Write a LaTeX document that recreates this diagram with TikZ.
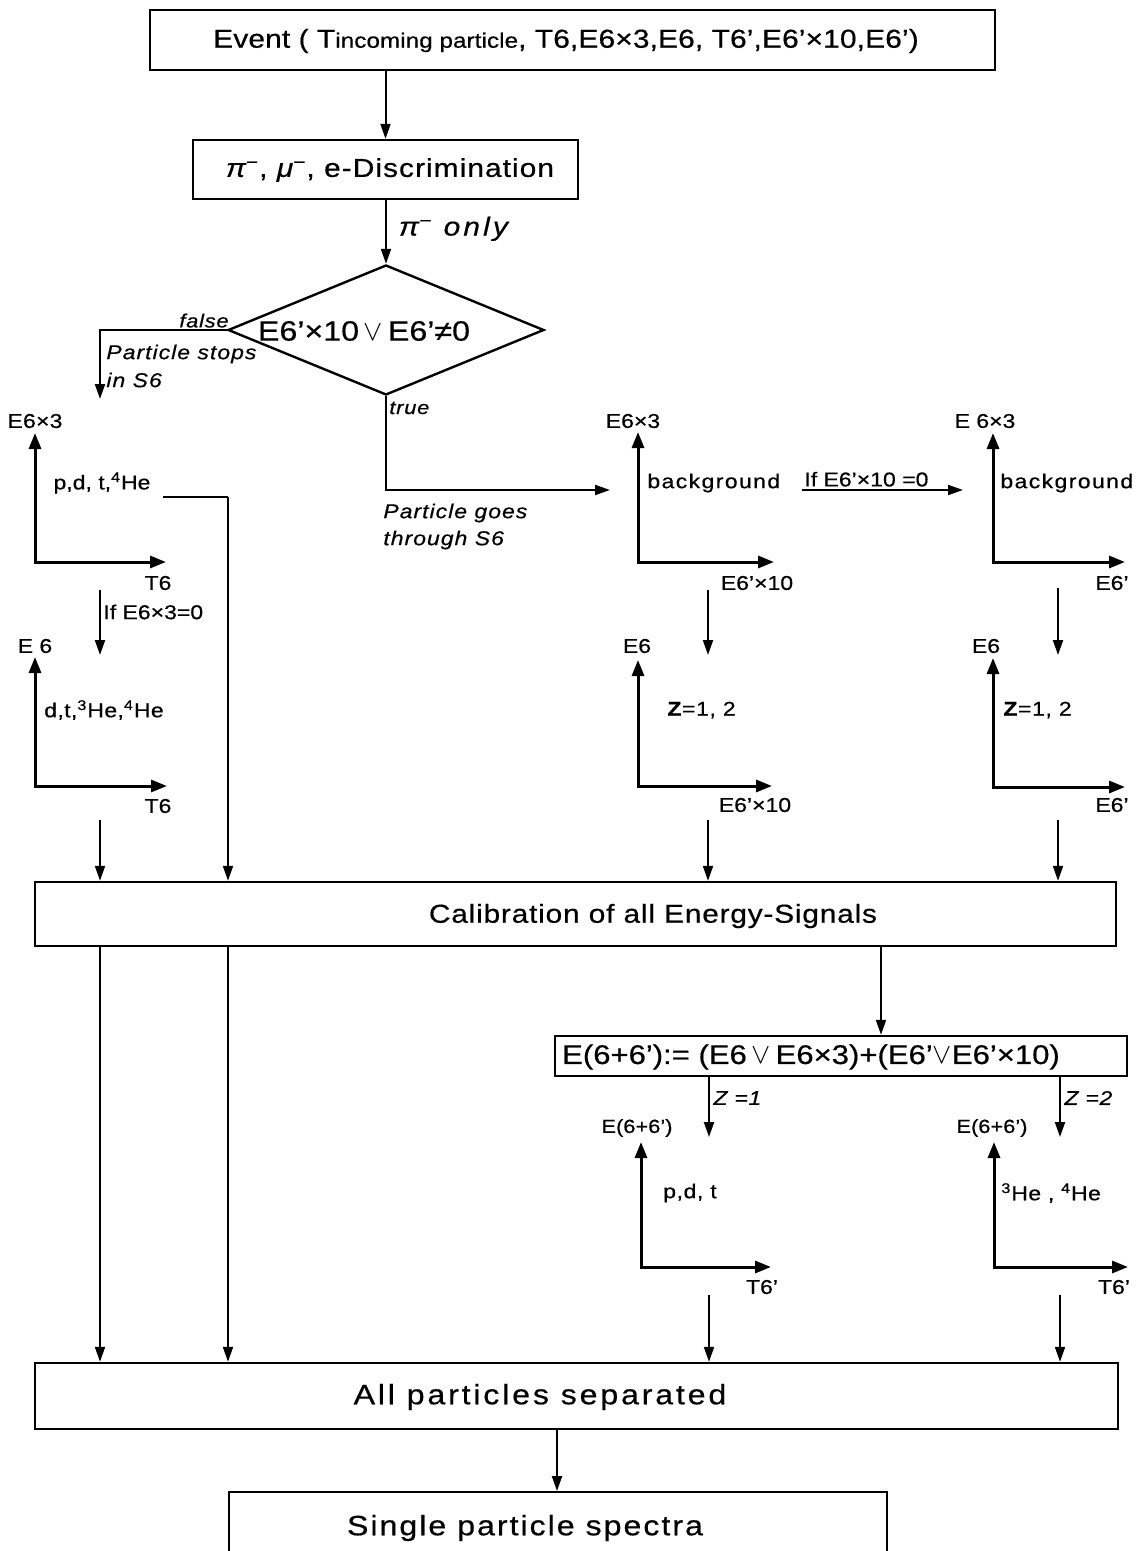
\documentclass[tikz,border=0pt]{standalone}
\usepackage{fontspec}
\setmainfont{Liberation Sans}[FakeStretch=1.15,FakeBold=0.5]
\usetikzlibrary{arrows.meta,shapes.geometric}
\newcommand{\lsp}[2]{{\addfontfeature{LetterSpace=#1}#2}}
\tikzset{
  box/.style={draw, line width=1.2pt, inner sep=0pt},
  flow/.style={line width=1pt, -{Triangle[length=7.5pt,width=5pt]}},
  plain/.style={line width=1pt},
  axis/.style={line width=1.5pt, {Triangle[length=8pt,width=6pt]}-{Triangle[length=8pt,width=6pt]}},
  lab/.style={inner sep=0pt, font=\fontsize{10}{12}\selectfont},
  itl/.style={inner sep=0pt, font=\fontsize{10}{12}\selectfont\itshape},
  big/.style={inner sep=0pt}
}
\begin{document}
\begin{tikzpicture}[x=0.5pt,y=-0.5pt]
\useasboundingbox (0,0) rectangle (1142,1551);
\clip (0,0) rectangle (1142,1551);
\fill[white] (0,0) rectangle (1142,1551);

% ---------- top box
\node[box, minimum width=422.5pt, minimum height=30pt] (ev) at (572.5,40) {};
\node[big, font=\fontsize{13}{15}\selectfont] (evt) at (566,41)
  {\lsp{0.5}{Event ( T{\fontsize{10.5}{12}\selectfont incoming particle}, T6,E6×3,E6, T6’,E6’×10,E6’)}};

% ---------- discrimination
\node[box, minimum width=192.5pt, minimum height=29.5pt] (disc) at (385.5,169.5) {};
\node[big, font=\fontsize{13}{15}\selectfont] (disct) at (390,170)
  {\lsp{4}{{\itshape π}\textsuperscript{−}, {\itshape μ}\textsuperscript{−}, e-Discrimination}};
\draw[flow] (disc.north |- ev.south) -- (disc.north);

% ---------- diamond
\node[diamond, draw, line width=1.2pt, inner sep=0pt, minimum width=158pt, minimum height=65pt] (dia) at (386,330) {};
\node[big, font=\fontsize{14}{16}\selectfont] (diat) at (364,331) {E6’×10$\,\vee\,$E6’≠0};
\draw[flow] (disc.south -| dia.north) -- (dia.north)
  node[pos=0.45, right=6pt, inner sep=0pt, font=\fontsize{13}{15}\selectfont\itshape] (only) {\lsp{12}{π\textsuperscript{−} only}};

% false branch
\coordinate (fc) at (100,330);
\coordinate (fe) at (100,399);
\draw[flow] (dia.west) -- (fc) -- (fe);
\node[itl, anchor=south, font=\fontsize{9.5}{11}\selectfont\itshape] (false) at (204,328) {\lsp{4}{false}};
\node[itl, anchor=west] (stops1) at (106,354) {\lsp{5}{Particle stops}};
\node[itl, anchor=west] (stops2) at (106,380) {\lsp{5}{in S6}};

% true branch
\coordinate (tc) at (386,490);
\coordinate (te) at (610,490);
\draw[flow] (dia.south) -- (tc) -- (te);
\node[itl, anchor=west, font=\fontsize{9.5}{11}\selectfont\itshape] (true) at (389,408) {\lsp{4}{true}};
\node[itl, anchor=west] (goes1) at (383,513) {\lsp{5}{Particle goes}};
\node[itl, anchor=west] (goes2) at (383,540) {\lsp{5}{through S6}};

% ---------- left plots
\draw[axis] (35,433) -- (35,562) -- (166,562);
\node[lab] (l1y) at (35,421) {\lsp{1}{E6×3}};
\node[lab] (l1x) at (158,583) {T6};
\node[lab] (l1t) at (102,483) {p,d, t,\textsuperscript{4}He};
\coordinate (l1a) at (163,497);
\coordinate (l1b) at (228,497);
\coordinate (l2a) at (100,590);
\coordinate (l2b) at (100,655);
\draw[flow] (l2a) -- (l2b);
\node[lab, anchor=west] (l2c) at (103,612) {If E6×3=0};
\draw[axis] (35,657) -- (35,786) -- (167,786);
\node[lab] (l2y) at (35,646) {E 6};
\node[lab] (l2x) at (158,806) {T6};
\node[lab] (l2t) at (104,710) {\lsp{2}{d,t,\textsuperscript{3}He,\textsuperscript{4}He}};
\coordinate (l3a) at (100,820);

% ---------- middle plots
\draw[axis] (638,432) -- (638,562) -- (774,562);
\node[lab] (m1y) at (633,421) {E6×3};
\node[lab, anchor=west] (m1t) at (647,483) {\lsp{7}{background}};
\node[lab] (m1x) at (757,583) {E6’×10};
\coordinate (m2a) at (708,590);
\coordinate (m2b) at (708,655);
\draw[flow] (m2a) -- (m2b);
\draw[axis] (638,660) -- (638,786) -- (772,786);
\node[lab] (m2y) at (637,646) {E6};
\node[lab, anchor=west] (m2t) at (667,710) {\lsp{3}{\textbf{Z}=1, 2}};
\node[lab] (m2x) at (755,805) {E6’×10};
\coordinate (m3a) at (708,820);

% if arrow to right plot
\coordinate (ifa) at (802,490);
\coordinate (ifb) at (963,490);
\draw[flow] (ifa) -- (ifb);
\node[lab, anchor=south west] (ift) at (804,487) {If E6’×10 =0};

% ---------- right plots
\draw[axis] (993,433) -- (993,562) -- (1125,562);
\node[lab] (r1y) at (985,421) {E 6×3};
\node[lab, anchor=west] (r1t) at (1000,483) {\lsp{7}{background}};
\node[lab] (r1x) at (1112,583) {E6’};
\coordinate (r2a) at (1058,588);
\coordinate (r2b) at (1058,655);
\draw[flow] (r2a) -- (r2b);
\draw[axis] (993,658) -- (993,787) -- (1125,787);
\node[lab] (r2y) at (986,646) {E6};
\node[lab, anchor=west] (r2t) at (1003,710) {\lsp{3}{\textbf{Z}=1, 2}};
\node[lab] (r2x) at (1112,805) {E6’};
\coordinate (r3a) at (1058,820);

% ---------- calibration
\node[box, minimum width=540.5pt, minimum height=32pt] (cal) at (575.5,914) {};
\node[big, font=\fontsize{13}{15}\selectfont] (calt) at (653,916) {\lsp{3}{Calibration of all Energy-Signals}};
\draw[plain] (l1a) -- (l1b);
\draw[flow] (l1b) -- (l1b |- cal.north);
\draw[flow] (l3a) -- (l3a |- cal.north);
\draw[flow] (m3a) -- (m3a |- cal.north);
\draw[flow] (r3a) -- (r3a |- cal.north);

% ---------- E(6+6') box
\node[box, minimum width=286pt, minimum height=20pt] (eb) at (841,1056) {};
\node[big, font=\fontsize{13.5}{15}\selectfont] (ebt) at (811,1057) {E(6+6’):= (E6$\,\vee\,$E6×3)+(E6’$\vee$E6’×10)};
\draw[flow] (cal.south -| 881,0) -- (eb.north -| 881,0);

\coordinate (z1b) at (709,1137);
\coordinate (z2b) at (1060,1137);
\draw[flow] (eb.south -| z1b) -- (z1b);
\draw[flow] (eb.south -| z2b) -- (z2b);
\node[itl, anchor=west] (z1) at (713,1098) {\lsp{3}{Z =1}};
\node[itl, anchor=west] (z2) at (1064,1098) {\lsp{3}{Z =2}};

% bottom-middle plots
\draw[axis] (641,1142) -- (641,1267) -- (771,1267);
\node[lab, font=\fontsize{9.5}{11}\selectfont] (b1y) at (637,1128) {E(6+6’)};
\node[lab] (b1t) at (690,1193) {\lsp{3}{p,d, t}};
\node[lab] (b1x) at (762,1287) {T6’};
\coordinate (b1a) at (709,1295);
\draw[axis] (994,1142) -- (994,1267) -- (1128,1267);
\node[lab, font=\fontsize{9.5}{11}\selectfont] (b2y) at (992,1128) {E(6+6’)};
\node[lab, anchor=west] (b2t) at (1001,1193) {\lsp{2}{\textsuperscript{3}He , \textsuperscript{4}He}};
\node[lab] (b2x) at (1114,1287) {T6’};
\coordinate (b2a) at (1060,1295);

% ---------- all particles separated
\node[box, minimum width=541.5pt, minimum height=33pt] (all) at (576.5,1396) {};
\node[big, font=\fontsize{14}{16}\selectfont] (allt) at (540,1397) {\lsp{10}{All particles separated}};
\draw[flow] (cal.south -| 100,0) -- (all.north -| 100,0);
\draw[flow] (cal.south -| 228,0) -- (all.north -| 228,0);
\draw[flow] (b1a) -- (b1a |- all.north);
\draw[flow] (b2a) -- (b2a |- all.north);

% ---------- single particle spectra (box runs past the lower edge)
\node[box, minimum width=329pt, minimum height=50pt, anchor=north] (sps) at (558,1491) {};
\node[big, font=\fontsize{14}{16}\selectfont] (spst) at (525,1528) {\lsp{7}{Single particle spectra}};
\draw[flow] (all.south -| 557,0) -- (sps.north -| 557,0);
\end{tikzpicture}
\end{document}
